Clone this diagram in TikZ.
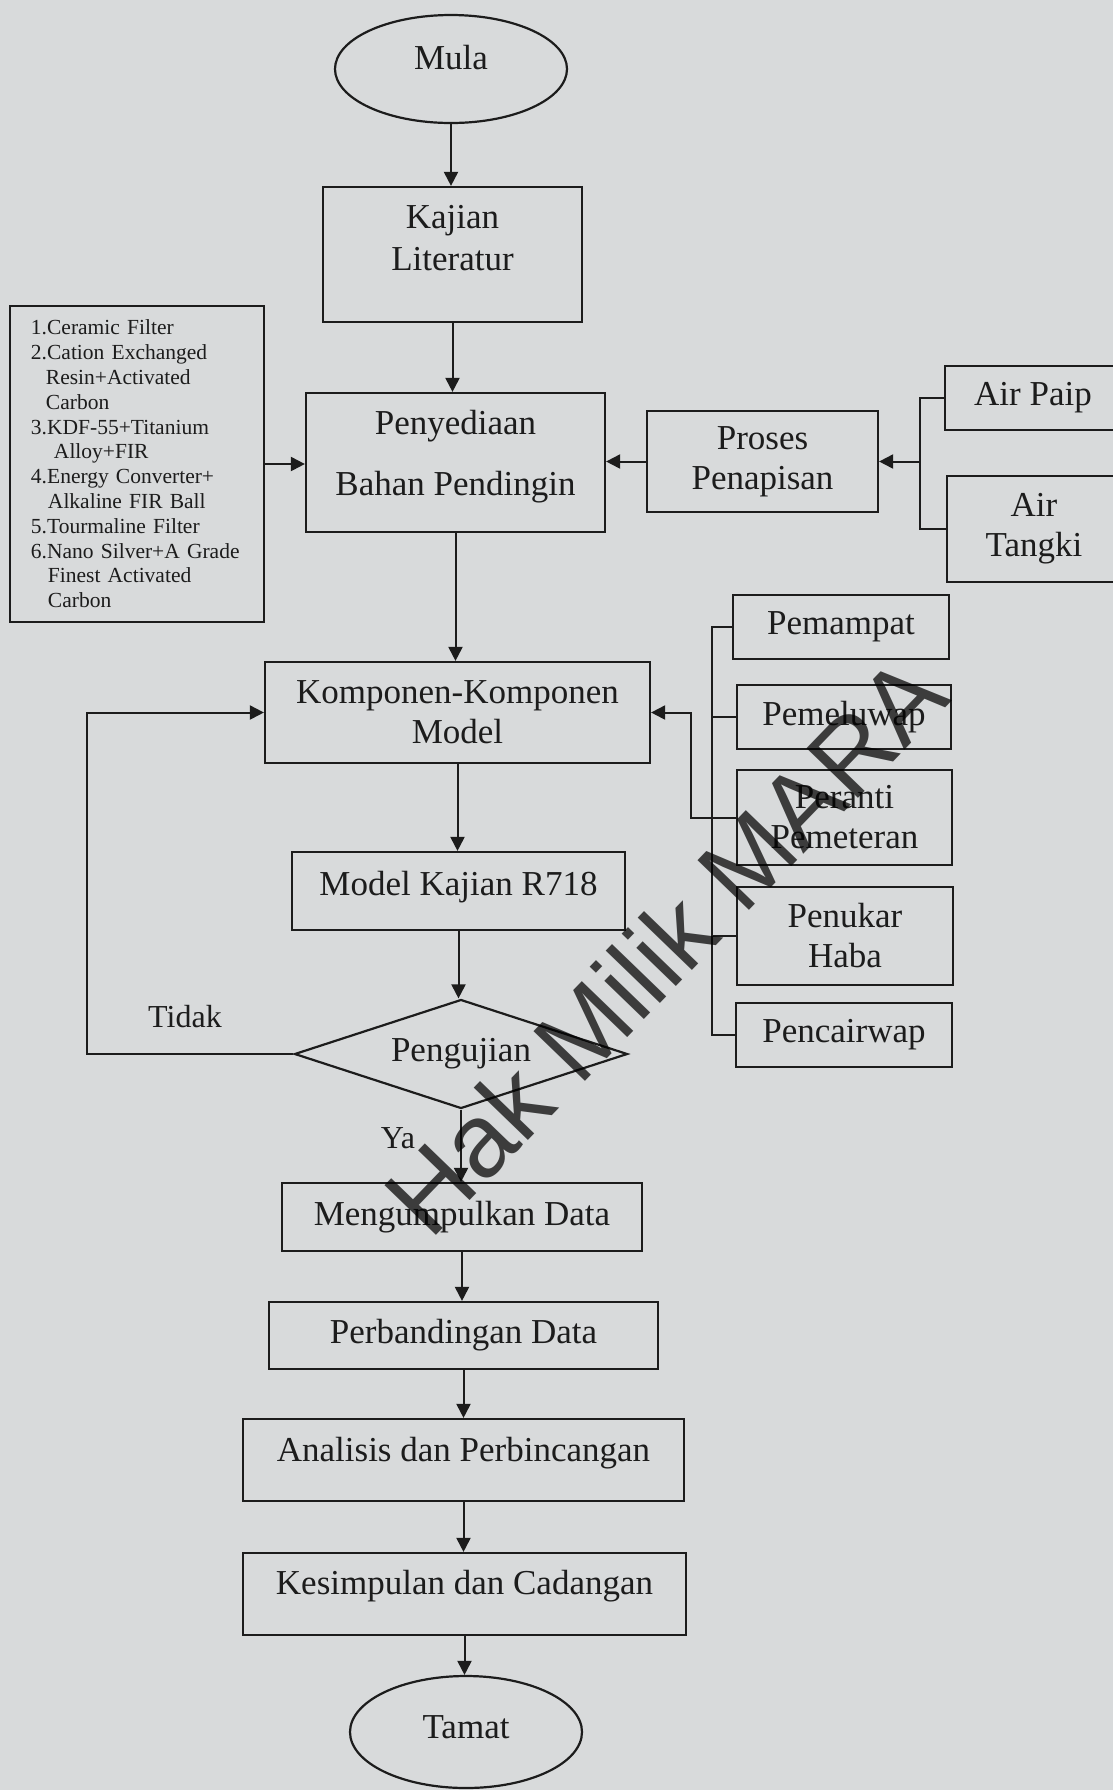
\documentclass[tikz,border=0pt]{standalone}
\usepackage{fontspec}
\setmainfont{Liberation Serif}
\newfontfamily\stampfont{Liberation Sans}
\usepackage{xcolor}
\usetikzlibrary{shapes, shapes.geometric, arrows.meta, positioning, calc}
\definecolor{pagebg}{RGB}{216,218,219}
\definecolor{ink}{RGB}{28,28,28}

\begin{document}
\begin{tikzpicture}[
    x=0.5pt, y=-0.5pt,
    every node/.style={font=\fontsize{17.5pt}{20pt}\selectfont, text=ink, inner sep=0pt},
    box/.style={rectangle, draw=ink, line width=1.1pt, align=center},
    terminal/.style={ellipse, draw=ink, line width=1.1pt, minimum width=116pt},
    decide/.style={diamond, draw=ink, line width=1.1pt, aspect=3, minimum width=166.5pt, minimum height=54.5pt},
    listbox/.style={rectangle, draw=ink, line width=1.1pt, align=left, font=\fontsize{10.75pt}{12.4pt}\selectfont, text width=106pt, inner xsep=10.5pt, minimum height=158pt},
    lbl/.style={font=\fontsize{16pt}{18pt}\selectfont, anchor=base},
    arrow/.style={-{Triangle[length=7pt,width=7pt]}, draw=ink, line width=1pt},
    link/.style={draw=ink, line width=1pt},
    stamp/.style={font=\stampfont\fontsize{52pt}{52pt}\selectfont, text=black, text opacity=0.72, rotate=46}
]
\useasboundingbox (0,0) rectangle (1113,1790);
\fill[pagebg] (0,0) rectangle (1113,1790);

% Main column
\node[terminal, minimum height=54pt, text depth=12pt] (mula) at (451,69) {Mula};
\node[box, minimum width=129.5pt, minimum height=67.5pt, text depth=16.5pt] (kajian) at (452.5,254.5) {Kajian\\[1pt]Literatur};
\node[box, minimum width=149.5pt, minimum height=69.5pt, text depth=10pt] (bahan) at (455.5,462.5) {Penyediaan\\[10.5pt]Bahan Pendingin};
\node[box, minimum width=192.5pt, minimum height=50.5pt] (komponen) at (457.5,712.5) {Komponen-Komponen\\Model};
\node[box, minimum width=166.5pt, minimum height=39pt, text depth=8pt] (model) at (458.5,891) {Model Kajian R718};
\node[decide] (uji) at (461,1054) {Pengujian};
\node[box, minimum width=180pt, minimum height=34pt] (kumpul) at (462,1217) {Mengumpulkan Data};
\node[box, minimum width=194.5pt, minimum height=33.5pt] (banding) at (463.5,1335.5) {Perbandingan Data};
\node[box, minimum width=220.5pt, minimum height=41pt, text depth=11pt] (analisis) at (463.5,1460) {Analisis dan Perbincangan};
\node[box, minimum width=221.5pt, minimum height=41pt, text depth=12pt] (simpulan) at (464.5,1594) {Kesimpulan dan Cadangan};
\node[terminal, minimum height=56pt, text depth=4.5pt] (tamat) at (466,1732) {Tamat};

% Water side
\node[listbox] (filters) at (137,464) {1.Ceramic Filter\\
2.Cation Exchanged\\
\hspace*{7.5pt}Resin+Activated\\
\hspace*{7.5pt}Carbon\\
3.KDF-55+Titanium\\
\hspace*{11.5pt}Alloy+FIR\\
4.Energy Converter+\\
\hspace*{8.5pt}Alkaline FIR Ball\\
5.Tourmaline Filter\\
6.Nano Silver+A Grade\\
\hspace*{8.5pt}Finest Activated\\
\hspace*{8.5pt}Carbon};
\node[box, minimum width=115.5pt, minimum height=50.5pt] (proses) at (762.5,461.5) {Proses\\Penapisan};
\node[box, minimum width=88pt, minimum height=32pt] (airpaip) at (1033,398) {Air Paip};
\node[box, minimum width=87pt, minimum height=53pt] (airtangki) at (1034,529) {Air\\Tangki};

% Components
\node[box, minimum width=108pt, minimum height=32pt] (pemampat) at (841,627) {Pemampat};
\node[box, minimum width=107pt, minimum height=32pt] (pemeluwap) at (844,717) {Pemeluwap};
\node[box, minimum width=107.5pt, minimum height=47.5pt] (peranti) at (844.5,817.5) {Peranti\\Pemeteran};
\node[box, minimum width=108pt, minimum height=49pt] (penukar) at (845,936) {Penukar\\Haba};
\node[box, minimum width=108pt, minimum height=32pt] (pencairwap) at (844,1035) {Pencairwap};

% Flow
\draw[arrow] (mula.south) -- (mula.south |- kajian.north);
\draw[arrow] (kajian.south) -- (kajian.south |- bahan.north);
\draw[arrow] (bahan.south) -- (bahan.south |- komponen.north);
\draw[arrow] (komponen.south) -- (komponen.south |- model.north);
\draw[arrow] (model.south) -- (model.south |- uji.north);
\draw[arrow] (uji.south) -- (uji.south |- kumpul.north);
\draw[arrow] (kumpul.south) -- (kumpul.south |- banding.north);
\draw[arrow] (banding.south) -- (banding.south |- analisis.north);
\draw[arrow] (analisis.south) -- (analisis.south |- simpulan.north);
\draw[arrow] (simpulan.south) -- (simpulan.south |- tamat.north);

% Inputs
\draw[arrow] (filters.east) -- (filters.east -| bahan.west);
\draw[arrow] (proses.west) -- (proses.west -| bahan.east);
\coordinate (airjoin) at ($(proses.east)+(41,0)$);
\draw[link] (airpaip.west) -| (airjoin) |- (airtangki.west);
\draw[arrow] (airjoin) -- (proses.east);

\coordinate (bus) at ($(pemeluwap.west)+(-24,0)$);
\draw[link] (pemampat.west) -| (bus) |- (pencairwap.west);
\draw[link] (pemeluwap.west) -- (bus);
\draw[link] (penukar.west) -- (penukar.west -| bus);
\draw[arrow] (peranti.west) -- ++(-45,0) |- (komponen.east);

% Loop back
\draw[arrow] (uji.west) -- ++(-206,0) |- (komponen.west);
\node[lbl] (tidak) at (185,1027) {Tidak};
\node[lbl] (ya) at (398,1148) {Ya};

% Watermark
\node[stamp] (hakmilik) at (665,945) {Hak Milik MARA};
\end{tikzpicture}
\end{document}
